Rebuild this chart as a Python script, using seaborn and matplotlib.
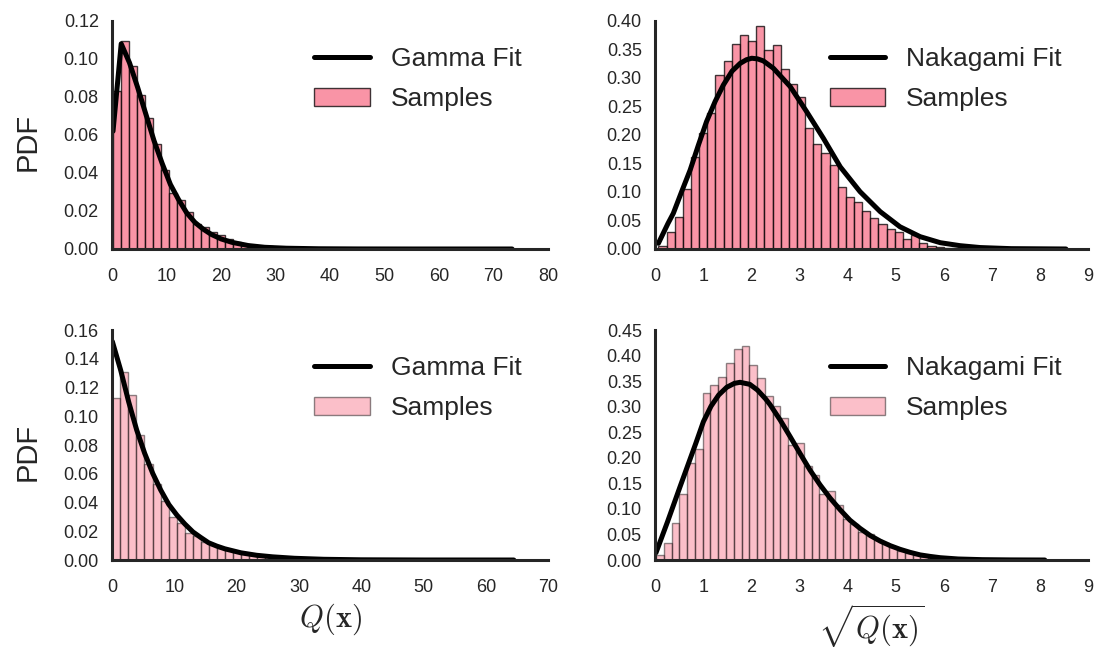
import numpy as np
import pandas as pd
import matplotlib
matplotlib.use("Agg")
import matplotlib.pyplot as plt
from matplotlib.colors import to_rgba
import seaborn as sns

# ---- histogram bin ranges (min, max sample) and bar heights (density) ----
q_top_range = (0.18, 73.4)
q_top_heights = [0.083, 0.1095, 0.0963, 0.081, 0.0688, 0.055, 0.0416, 0.0293, 0.0258, 0.0196,
                 0.013, 0.0114, 0.0091, 0.0074, 0.0053, 0.0039, 0.0028, 0.0021, 0.0018, 0.0014,
                 0.0011, 0.0009, 0.0007, 0.0005, 0.0004, 0.0003, 0.0003, 0.0002, 0.0002, 0.0001,
                 0.0001, 0.0001, 0.0001, 0.0, 0.0001, 0.0, 0.0, 0.0, 0.0, 0.0,
                 0.0, 0.0, 0.0, 0.0, 0.0, 0.0, 0.0, 0.0, 0.0, 0.0001]

q_bot_range = (0.05, 64.5)
q_bot_heights = [0.1125, 0.1306, 0.1146, 0.087, 0.0666, 0.0529, 0.041, 0.0302, 0.026, 0.019,
                 0.0167, 0.0128, 0.0104, 0.0086, 0.007, 0.0053, 0.0046, 0.0035, 0.0028, 0.0023,
                 0.0017, 0.0013, 0.001, 0.0008, 0.0006, 0.0005, 0.0004, 0.0003, 0.0002, 0.0002,
                 0.0001, 0.0001, 0.0001, 0.0001, 0.0, 0.0001, 0.0, 0.0, 0.0, 0.0,
                 0.0, 0.0, 0.0, 0.0, 0.0, 0.0, 0.0, 0.0, 0.0, 0.0001]

r_top_range = (0.07, 8.54)
r_top_heights = [0.005, 0.029, 0.056, 0.105, 0.161, 0.203, 0.239, 0.305, 0.330, 0.360,
                 0.375, 0.365, 0.392, 0.349, 0.358, 0.315, 0.29, 0.267, 0.213, 0.184,
                 0.168, 0.147, 0.108, 0.092, 0.083, 0.067, 0.055, 0.044, 0.0345, 0.029,
                 0.017, 0.0246, 0.010, 0.0053, 0.004, 0.0025, 0.0015, 0.001, 0.0008, 0.0005,
                 0.0003, 0.0002, 0.0002, 0.0001, 0.0001, 0.0, 0.0, 0.0, 0.0, 0.0001]

r_bot_range = (0.02, 8.1)
r_bot_heights = [0.0098, 0.0326, 0.073, 0.1285, 0.190, 0.217, 0.326, 0.342, 0.359, 0.385,
                 0.412, 0.419, 0.382, 0.357, 0.321, 0.301, 0.277, 0.225, 0.228, 0.1846,
                 0.1657, 0.129, 0.1357, 0.1076, 0.081, 0.0698, 0.054, 0.0509, 0.039, 0.0326,
                 0.026, 0.0176, 0.013, 0.009, 0.0065, 0.004, 0.003, 0.002, 0.0012, 0.0008,
                 0.0005, 0.0003, 0.0002, 0.0001, 0.0001, 0.0, 0.0, 0.0, 0.0, 0.0001]

# ---- fitted density curves ----
gamma_top_x = [0.18, 1.68, 3.2, 4.7, 6.2, 7.7, 9.2, 10.7, 12.2, 13.7, 15.2, 16.7, 18.2, 20,
               22, 25, 28, 32, 38, 45, 55, 73.4]
gamma_top_y = [0.062, 0.108, 0.098, 0.085, 0.071, 0.057, 0.045, 0.034, 0.026, 0.019, 0.014,
               0.0105, 0.0077, 0.0053, 0.0035, 0.0018, 0.0009, 0.0004, 0.00012, 0.00003, 0.0, 0.0]

gamma_bot_x = [0.05, 1.39, 2.67, 3.96, 5.24, 6.53, 7.81, 9.1, 10.4, 11.7, 13.0, 14.2, 15.5,
               16.8, 18.1, 20.7, 23.2, 25.8, 29.3, 34, 40, 50, 64.5]
gamma_bot_y = [0.152, 0.132, 0.110, 0.0904, 0.0742, 0.0603, 0.0487, 0.0387, 0.0313, 0.025,
               0.0195, 0.0158, 0.012, 0.0097, 0.0078, 0.005, 0.0033, 0.0022, 0.0012, 0.0005,
               0.00015, 0.00002, 0.0]

naka_top_x = [0.07, 0.27, 0.38, 0.55, 0.73, 0.9, 1.07, 1.25, 1.42, 1.6, 1.77, 1.9, 2.01,
              2.13, 2.25, 2.46, 2.81, 3.15, 3.5, 3.85, 4.26, 4.68, 5.09, 5.51, 5.93, 6.34,
              6.76, 7.4, 8.54]
naka_top_y = [0.01, 0.045, 0.0626, 0.100, 0.1386, 0.182, 0.2234, 0.259, 0.2877, 0.312,
              0.3257, 0.332, 0.3346, 0.3335, 0.330, 0.317, 0.2848, 0.241, 0.194, 0.144,
              0.1006, 0.0655, 0.039, 0.0216, 0.011, 0.0058, 0.0025, 0.0006, 0.0]

naka_bot_x = [0.02, 0.26, 0.52, 0.846, 1.005, 1.164, 1.324, 1.49, 1.65, 1.767, 1.968, 2.127,
              2.3, 2.39, 2.6, 2.81, 3.01, 3.22, 3.43, 3.64, 3.85, 4.05, 4.26, 4.47, 4.68,
              4.89, 5.09, 5.3, 5.51, 5.72, 5.93, 6.3, 6.8, 7.4, 8.1]
naka_bot_y = [0.0143, 0.075, 0.1435, 0.228, 0.2707, 0.301, 0.323, 0.338, 0.3457, 0.3477,
              0.3438, 0.3327, 0.315, 0.304, 0.274, 0.241, 0.209, 0.176, 0.147, 0.121,
              0.098, 0.078, 0.062, 0.048, 0.037, 0.028, 0.021, 0.015, 0.010, 0.007,
              0.0045, 0.002, 0.0007, 0.0002, 0.0]

fit_labels = ["Gamma Fit", "Nakagami Fit"]
sample_label = "Samples"
y_label = "PDF"
x_labels = [r"$Q(\mathbf{x})$", r"$\sqrt{Q(\mathbf{x})}$"]

# ---- style ----
sns.set_style("white")
plt.rcParams["font.family"] = ["Liberation Sans", "DejaVu Sans"]
plt.rcParams["mathtext.fontset"] = "cm"
text_color = "#262626"

base = sns.color_palette("husl", 8)[0]

fig = plt.figure(figsize=(11.05, 6.53), dpi=100)
positions = {
    (0, 0): [0.1014, 0.6187, 0.3946, 0.3492],
    (0, 1): [0.5928, 0.6187, 0.3919, 0.3492],
    (1, 0): [0.1014, 0.1424, 0.3946, 0.3522],
    (1, 1): [0.5928, 0.1424, 0.3919, 0.3522],
}

panels = [
    ((0, 0), q_top_range, q_top_heights, gamma_top_x, gamma_top_y, fit_labels[0], 0.75, (0, 80), 10, (0, 0.12), 0.02),
    ((0, 1), r_top_range, r_top_heights, naka_top_x, naka_top_y, fit_labels[1], 0.75, (0, 9), 1, (0, 0.40), 0.05),
    ((1, 0), q_bot_range, q_bot_heights, gamma_bot_x, gamma_bot_y, fit_labels[0], 0.45, (0, 70), 10, (0, 0.16), 0.02),
    ((1, 1), r_bot_range, r_bot_heights, naka_bot_x, naka_bot_y, fit_labels[1], 0.45, (0, 9), 1, (0, 0.45), 0.05),
]

for key, rng, heights, cx, cy, fit_label, alpha, xlim, xstep, ylim, ystep in panels:
    ax = fig.add_axes(positions[key])
    edges = np.linspace(rng[0], rng[1], len(heights) + 1)
    hist_df = pd.DataFrame({"value": 0.5 * (edges[:-1] + edges[1:]),
                            "density": heights})
    sns.histplot(data=hist_df, x="value", weights="density",
                 bins=len(heights), binrange=rng, stat="count", ax=ax,
                 facecolor=to_rgba(base, alpha), edgecolor=(0, 0, 0, alpha),
                 linewidth=1.0)
    curve_df = pd.DataFrame({"value": cx, "pdf": cy})
    sns.lineplot(data=curve_df, x="value", y="pdf", ax=ax, color="black",
                 linewidth=3.6, sort=False)

    ax.set_xlim(*xlim)
    ax.set_ylim(*ylim)
    ax.set_xticks(np.arange(xlim[0], xlim[1] + xstep / 2, xstep))
    ax.set_yticks(np.arange(0, ylim[1] + ystep / 2, ystep))
    ax.yaxis.set_major_formatter(matplotlib.ticker.FormatStrFormatter("%.2f"))
    ax.tick_params(labelsize=13, colors=text_color, length=0)
    ax.tick_params(axis="x", pad=14)
    ax.tick_params(axis="y", pad=9.5)
    for side in ("top", "right"):
        ax.spines[side].set_visible(False)
    for side in ("left", "bottom"):
        ax.spines[side].set_color(text_color)
        ax.spines[side].set_linewidth(2.2)
    ax.set_xlabel("")
    ax.set_ylabel("")

    handles = [ax.lines[-1], ax.patches[0]]
    ax.legend(handles, [fit_label, sample_label], loc="upper right", frameon=False,
              fontsize=19, handlelength=2.1, labelspacing=0.6, borderaxespad=0.6,
              labelcolor=text_color)

    if key[1] == 0:
        ax.set_ylabel(y_label, fontsize=21, color=text_color, labelpad=16)
        ax.yaxis.label.set_y(0.47)
    if key[0] == 1:
        ax.set_xlabel(x_labels[key[1]], fontsize=22, color=text_color, labelpad=4)

fig.savefig("out.png", dpi=100)
